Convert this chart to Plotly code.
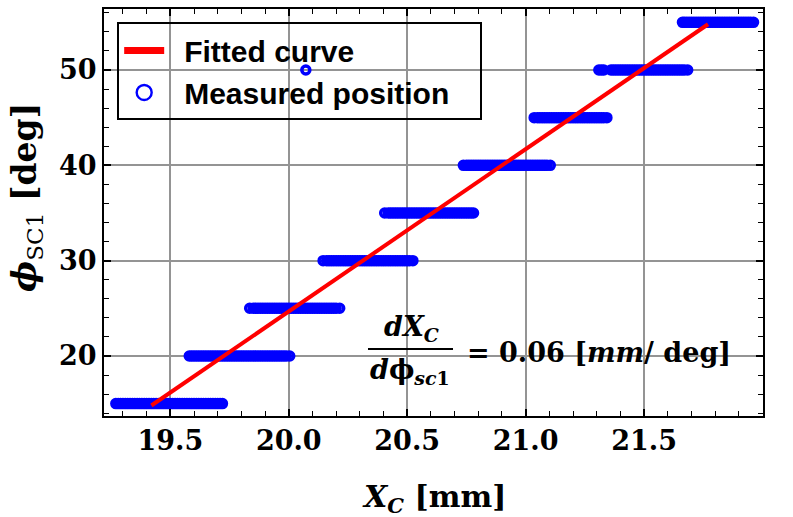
import plotly.graph_objects as go

# Rotation angle levels (deg) and the measured X_C positions (mm) at each level
phi_levels = [15, 20, 25, 30, 35, 40, 45, 50, 55]

x_at_15 = [19.27, 19.28, 19.29, 19.30, 19.31, 19.32, 19.33, 19.34, 19.35, 19.36,
           19.37, 19.38, 19.39, 19.40, 19.41, 19.42, 19.43, 19.44, 19.45, 19.46,
           19.47, 19.48, 19.49, 19.50, 19.51, 19.52, 19.53, 19.54, 19.55, 19.56,
           19.57, 19.58, 19.59, 19.60, 19.61, 19.62, 19.63, 19.64, 19.65, 19.66,
           19.67, 19.68, 19.69, 19.70, 19.71, 19.72]
x_at_20 = [19.58, 19.59, 19.60, 19.61, 19.62, 19.63, 19.64, 19.65, 19.66, 19.67,
           19.68, 19.69, 19.70, 19.71, 19.72, 19.73, 19.74, 19.75, 19.76, 19.77,
           19.78, 19.79, 19.80, 19.81, 19.82, 19.83, 19.84, 19.85, 19.86, 19.87,
           19.88, 19.89, 19.90, 19.91, 19.92, 19.93, 19.94, 19.95, 19.96, 19.97,
           19.98, 19.99, 20.004]
x_at_25 = [19.835, 19.85, 19.86, 19.87, 19.88, 19.89, 19.90, 19.91, 19.92, 19.93,
           19.94, 19.95, 19.96, 19.97, 19.98, 19.99, 20.00, 20.01, 20.02, 20.03,
           20.04, 20.05, 20.06, 20.07, 20.08, 20.09, 20.10, 20.11, 20.12, 20.13,
           20.14, 20.15, 20.16, 20.17, 20.18, 20.19, 20.20, 20.215]
x_at_30 = [20.145, 20.16, 20.17, 20.18, 20.19, 20.20, 20.21, 20.22, 20.23, 20.24,
           20.25, 20.26, 20.27, 20.28, 20.29, 20.30, 20.31, 20.32, 20.33, 20.34,
           20.35, 20.36, 20.37, 20.38, 20.39, 20.40, 20.41, 20.42, 20.43, 20.44,
           20.45, 20.46, 20.47, 20.48, 20.49, 20.50, 20.51, 20.524]
x_at_35 = [20.405, 20.42, 20.43, 20.44, 20.45, 20.46, 20.47, 20.48, 20.49, 20.50,
           20.51, 20.52, 20.53, 20.54, 20.55, 20.56, 20.57, 20.58, 20.59, 20.60,
           20.61, 20.62, 20.63, 20.64, 20.65, 20.66, 20.67, 20.68, 20.69, 20.70,
           20.71, 20.72, 20.73, 20.74, 20.75, 20.76, 20.77, 20.78]
x_at_40 = [20.737, 20.75, 20.76, 20.77, 20.78, 20.79, 20.80, 20.81, 20.82, 20.83,
           20.84, 20.85, 20.86, 20.87, 20.88, 20.89, 20.90, 20.91, 20.92, 20.93,
           20.94, 20.95, 20.96, 20.97, 20.98, 20.99, 21.00, 21.01, 21.02, 21.03,
           21.04, 21.05, 21.06, 21.07, 21.08, 21.09, 21.104]
x_at_45 = [21.036, 21.05, 21.06, 21.07, 21.08, 21.09, 21.10, 21.11, 21.12, 21.13,
           21.14, 21.15, 21.16, 21.17, 21.18, 21.19, 21.20, 21.21, 21.22, 21.23,
           21.24, 21.25, 21.26, 21.27, 21.28, 21.29, 21.30, 21.31, 21.32, 21.33,
           21.343]
x_at_50 = [21.309, 21.32, 21.33, 21.36, 21.37, 21.38, 21.39, 21.40, 21.41, 21.42,
           21.43, 21.44, 21.45, 21.46, 21.47, 21.48, 21.49, 21.50, 21.51, 21.52,
           21.53, 21.54, 21.55, 21.56, 21.57, 21.58, 21.59, 21.60, 21.61, 21.62,
           21.63, 21.64, 21.65, 21.66, 21.67, 21.684]
x_at_55 = [21.662, 21.67, 21.68, 21.69, 21.70, 21.71, 21.72, 21.73, 21.74, 21.75,
           21.76, 21.77, 21.78, 21.79, 21.80, 21.81, 21.82, 21.83, 21.84, 21.85,
           21.86, 21.87, 21.88, 21.89, 21.90, 21.91, 21.92, 21.93, 21.94, 21.95,
           21.962]

# One stray reading
outlier_x = [20.072]
outlier_phi = [50]

# Linear fit end points
fit_x = [19.42, 21.77]
fit_phi = [14.8, 54.8]

x_ticks = [19.5, 20.0, 20.5, 21.0, 21.5, 22.0]
y_ticks = [20, 30, 40, 50]

groups = [x_at_15, x_at_20, x_at_25, x_at_30, x_at_35, x_at_40, x_at_45, x_at_50, x_at_55]
meas_x, meas_phi = [], []
for level, xs in zip(phi_levels, groups):
    meas_x += xs
    meas_phi += [level] * len(xs)
meas_x += outlier_x
meas_phi += outlier_phi

BLUE = "#0000ff"
RED = "#ff0000"
CLEAR = "rgba(0,0,0,0)"
GRID = "#949494"
SERIF = "DejaVu Serif"
PAD = "\u2002"  # small lead-in gap between legend symbol and label

fig = go.Figure()

# hollow rings: transparent fill with a thick blue outline
fig.add_trace(go.Scatter(
    x=meas_x, y=meas_phi, mode="markers", showlegend=False,
    marker=dict(symbol="circle", size=8, color=CLEAR, line=dict(width=3.5, color=BLUE)),
))
fig.add_trace(go.Scatter(
    x=fit_x, y=fit_phi, mode="lines", showlegend=False,
    line=dict(color=RED, width=4),
))

# legend entries
fig.add_trace(go.Scatter(
    x=[None], y=[None], mode="lines", name=PAD + "Fitted curve",
    line=dict(color=RED, width=7),
))
fig.add_trace(go.Scatter(
    x=[None], y=[None], mode="markers", name=PAD + "Measured position\u00a0\u00a0\u00a0",
    marker=dict(symbol="circle", size=15, color=CLEAR, line=dict(width=2.4, color=BLUE)),
))

tick_font = dict(family=SERIF, size=27, weight="bold", color="black")

fig.update_layout(
    width=793, height=517,
    margin=dict(l=104, r=30, t=9, b=101),
    paper_bgcolor="white", plot_bgcolor="white",
    showlegend=True,
    legend=dict(
        x=0.02, y=0.967, xanchor="left", yanchor="top",
        bgcolor=CLEAR, bordercolor="black", borderwidth=2,
        font=dict(family="Liberation Sans", size=30, weight="bold", color="black"),
        itemwidth=40, tracegroupgap=0,
    ),
    xaxis=dict(
        range=[19.22, 22.002], automargin=False,
        tickvals=x_ticks, ticktext=[f"{v:.1f}" for v in x_ticks],
        tickfont=tick_font,
        showgrid=True, gridcolor=GRID, gridwidth=1.8,
        showline=True, linecolor="black", linewidth=2, mirror="ticks",
        ticks="inside", ticklen=7, tickwidth=1.5, tickcolor="black",
        minor=dict(dtick=0.1, ticks="inside", ticklen=5, tickwidth=1.3,
                   tickcolor="black", showgrid=False),
        zeroline=False,
    ),
    yaxis=dict(
        range=[13.7, 56.4], automargin=False,
        tickvals=y_ticks, ticktext=[str(v) for v in y_ticks],
        tickfont=tick_font,
        showgrid=True, gridcolor=GRID, gridwidth=1.8,
        showline=True, linecolor="black", linewidth=2, mirror="ticks",
        ticks="inside", ticklen=7, tickwidth=1.5, tickcolor="black",
        minor=dict(dtick=2, ticks="inside", ticklen=5, tickwidth=1.3,
                   tickcolor="black", showgrid=False),
        zeroline=False,
    ),
)

# axis titles
fig.add_annotation(xref="paper", yref="paper", x=0.5, y=-0.203,
                   xanchor="center", yanchor="middle", showarrow=False,
                   text="<b><i>X</i><sub><i>C</i></sub> [mm]</b>",
                   font=dict(family=SERIF, size=30, color="black"))
fig.add_annotation(xref="paper", yref="paper", x=-0.1168, y=0.536,
                   xanchor="center", yanchor="middle", showarrow=False, textangle=-90,
                   text="<b><i>\u03d5</i></b><sub>SC1</sub><b> [deg]</b>",
                   font=dict(family=SERIF, size=33, color="black"))

# slope annotation written as a stacked fraction
eq_font = dict(family=SERIF, size=27, weight="bold", color="black")
fig.add_annotation(xref="paper", yref="paper", x=0.4659, y=0.168,
                   xanchor="center", yanchor="bottom", showarrow=False,
                   text="<i>dX</i><sub><i>C</i></sub>", font=eq_font)
fig.add_shape(type="line", xref="paper", yref="paper",
              x0=0.4006, x1=0.5296, y0=0.1646, y1=0.1646,
              line=dict(color="black", width=2))
fig.add_annotation(xref="paper", yref="paper", x=0.4643, y=0.158,
                   xanchor="center", yanchor="top", showarrow=False,
                   text="<i>d</i>\u03d5<sub><i>sc</i>1</sub>", font=eq_font)
fig.add_annotation(xref="paper", yref="paper", x=0.5478, y=0.157,
                   xanchor="left", yanchor="middle", showarrow=False,
                   text="= 0.06 [<i>mm</i>/ deg]", font=eq_font)

fig.write_html("out.html")
